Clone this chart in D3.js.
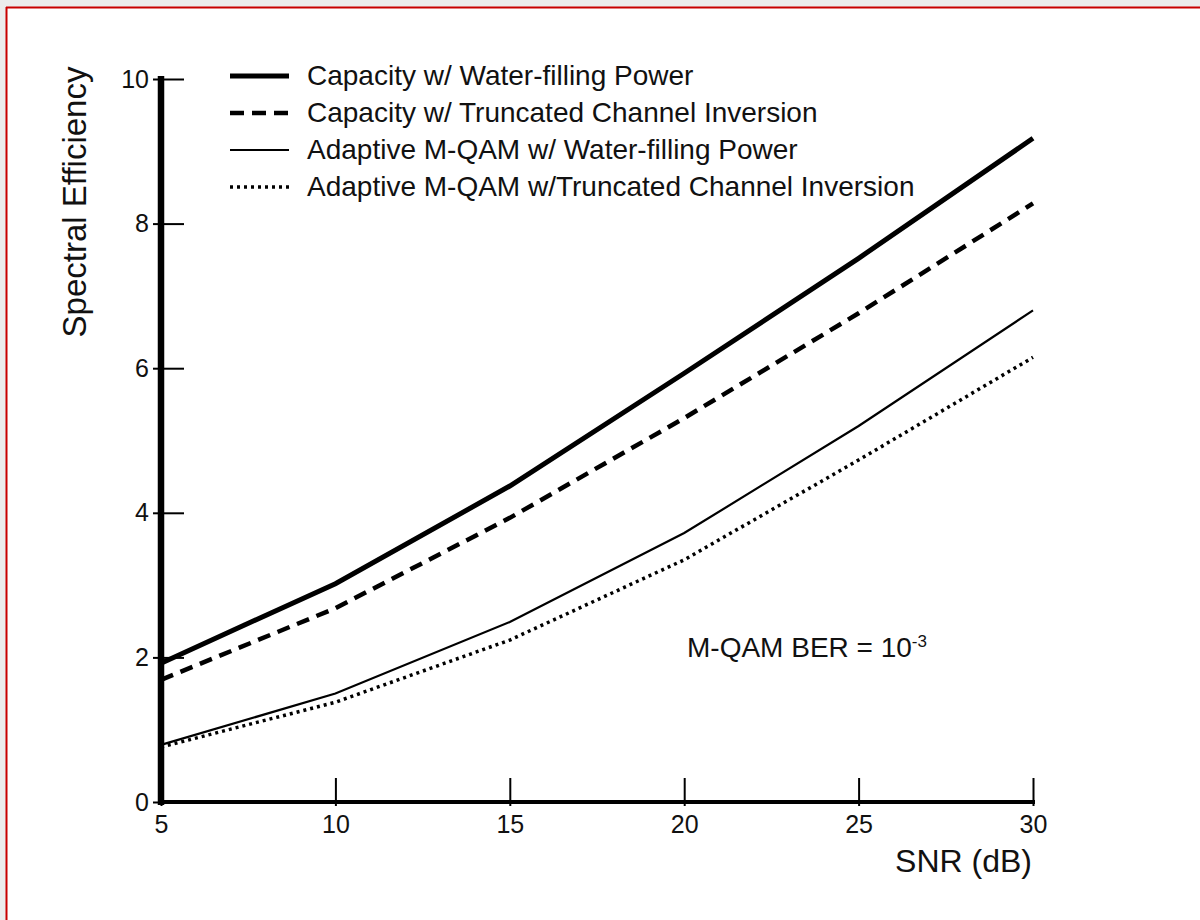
<!DOCTYPE html>
<html>
<head>
<meta charset="utf-8">
<script src="https://cdn.jsdelivr.net/npm/d3@7"></script>
<style>
  body { margin: 0; background: #fff; }
  text { font-family: "Liberation Sans", Arial, sans-serif; fill: #111; }
</style>
</head>
<body>
<div id="vis"></div>
<script>
// values (spectral efficiency, bps/Hz)
const snr = [5, 10, 15, 20, 25, 30];
const capWaterfill = [1.92, 3.02, 4.37, 5.93, 7.52, 9.18];
const capTruncInv = [1.69, 2.68, 3.93, 5.31, 6.76, 8.28];
const mqamWaterfill = [0.79, 1.50, 2.49, 3.72, 5.20, 6.80];
const mqamTruncInv = [0.76, 1.38, 2.24, 3.35, 4.73, 6.15];

const seriesNames = [
  "Capacity w/ Water-filling Power",
  "Capacity w/ Truncated Channel Inversion",
  "Adaptive M-QAM w/ Water-filling Power",
  "Adaptive M-QAM w/Truncated Channel Inversion"
];
const yTicks = [0, 2, 4, 6, 8, 10];
const xTicks = [5, 10, 15, 20, 25, 30];

const width = 1200, height = 920;

// line styles, one per series
const styles = [
  { w: 5, dash: null },
  { w: 4.5, dash: "13,8" },
  { w: 2.2, dash: null },
  { w: 3.5, dash: "3,4" }
];

const svg = d3.select("#vis").append("svg")
  .attr("width", width)
  .attr("height", height);

// page frame
svg.append("rect").attr("width", width).attr("height", height).attr("fill", "#ececec");
svg.append("rect").attr("x", 6).attr("y", 7).attr("width", width - 6).attr("height", height - 7).attr("fill", "#fff");
svg.append("line").attr("x1", 6).attr("x2", width).attr("y1", 7.5).attr("y2", 7.5)
  .attr("stroke", "#c80000").attr("stroke-width", 2);
svg.append("line").attr("x1", 6.5).attr("x2", 6.5).attr("y1", 7).attr("y2", height)
  .attr("stroke", "#c80000").attr("stroke-width", 2);

const x = d3.scaleLinear().domain([5, 30]).range([161, 1033]);
const y = d3.scaleLinear().domain([0, 10]).range([802, 79]);

const series = [capWaterfill, capTruncInv, mqamWaterfill, mqamTruncInv];

const line = d3.line()
  .x((d, i) => x(snr[i]))
  .y(d => y(d));

series.forEach(function (vals, k) {
  svg.append("path")
    .datum(vals)
    .attr("d", line)
    .attr("fill", "none")
    .attr("stroke", "#000")
    .attr("stroke-width", styles[k].w)
    .attr("stroke-dasharray", styles[k].dash);
});

// y axis
const yAxis = svg.append("g")
  .attr("transform", "translate(161,0)")
  .call(d3.axisLeft(y).tickValues(yTicks).tickSize(0).tickPadding(12));
yAxis.select(".domain").remove();
yAxis.selectAll(".tick text").attr("font-size", 25).style("font-family", "Liberation Sans, Arial, sans-serif");
yAxis.selectAll(".tick").append("line")
  .attr("x1", -8).attr("x2", 23)
  .attr("stroke", "#000").attr("stroke-width", 2);

// x axis
const xAxis = svg.append("g")
  .attr("transform", "translate(0,802)")
  .call(d3.axisBottom(x).tickValues(xTicks).tickSize(0).tickPadding(13));
xAxis.select(".domain").remove();
xAxis.selectAll(".tick text").attr("font-size", 25).style("font-family", "Liberation Sans, Arial, sans-serif");
xAxis.selectAll(".tick").append("line")
  .attr("y1", 4).attr("y2", -24)
  .attr("stroke", "#000").attr("stroke-width", 2);

// heavy axis lines
svg.append("line").attr("x1", x(5)).attr("x2", x(5)).attr("y1", 76).attr("y2", 805)
  .attr("stroke", "#000").attr("stroke-width", 6.5);
svg.append("line").attr("x1", 158).attr("x2", x(30) + 2).attr("y1", 802).attr("y2", 802)
  .attr("stroke", "#000").attr("stroke-width", 4);

// axis titles
svg.append("text")
  .attr("transform", "translate(86,202) rotate(-90)")
  .attr("text-anchor", "middle")
  .attr("font-size", 33)
  .text("Spectral Efficiency");

svg.append("text")
  .attr("x", 1032).attr("y", 872)
  .attr("text-anchor", "end")
  .attr("font-size", 32)
  .text("SNR (dB)");

// annotation
const note = svg.append("text")
  .attr("x", 687).attr("y", 657)
  .attr("font-size", 28);
note.append("tspan").text("M-QAM BER = 10");
note.append("tspan").attr("dy", -10).attr("font-size", 17).text("-3");

// legend
const legend = svg.append("g");
seriesNames.forEach(function (name, k) {
  const ly = 76 + k * 37;
  legend.append("line")
    .attr("x1", 230).attr("x2", 289)
    .attr("y1", ly).attr("y2", ly)
    .attr("stroke", "#000")
    .attr("stroke-width", styles[k].w)
    .attr("stroke-dasharray", k === 1 ? "14,8" : styles[k].dash);
  legend.append("text")
    .attr("x", 307).attr("y", ly + 9)
    .attr("font-size", 28)
    .text(name);
});
</script>
</body>
</html>
